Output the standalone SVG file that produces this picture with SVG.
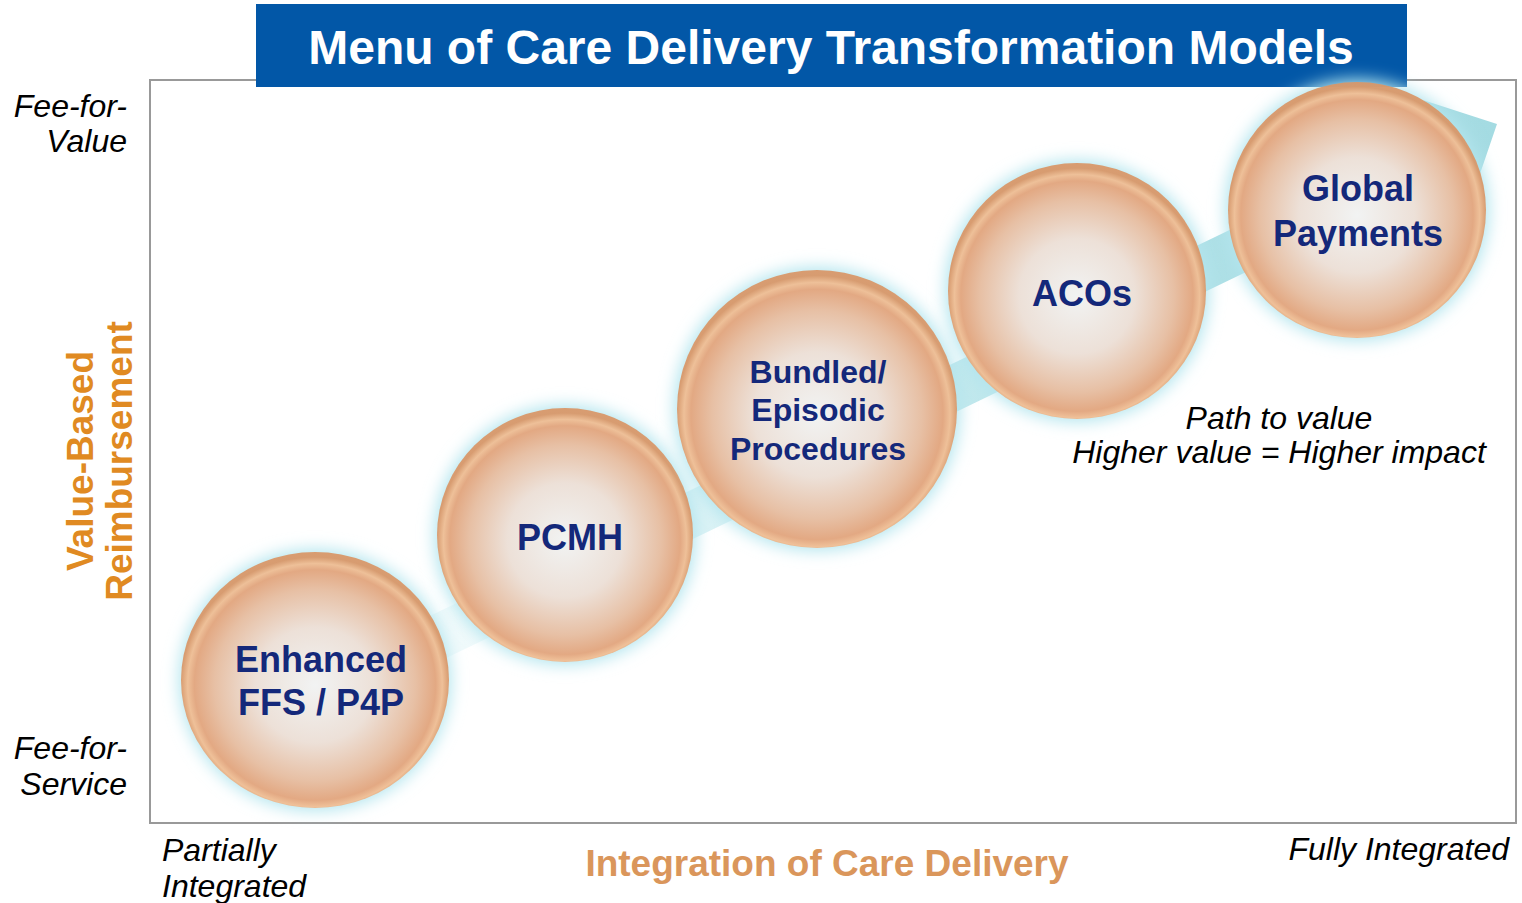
<svg xmlns="http://www.w3.org/2000/svg" width="1522" height="903" viewBox="0 0 1522 903">
<style>
text{font-family:"Liberation Sans",Arial,sans-serif}
.node{font-weight:bold;fill:#14287a;text-anchor:middle}
.ax{font-style:italic;fill:#000;font-size:32px}
.ball{fill:url(#ball);opacity:0.93}
.halo{fill:#b3e5ee;filter:url(#glow)}
</style>
<defs>
<radialGradient id="ball" cx="50%" cy="52%" r="50%">
<stop offset="0" stop-color="#f6f4f3"/>
<stop offset="0.45" stop-color="#f1e0d6"/>
<stop offset="0.75" stop-color="#ebbd9f"/>
<stop offset="0.9" stop-color="#e6a47b"/>
<stop offset="0.95" stop-color="#f2bd92"/>
<stop offset="1" stop-color="#d99667"/>
</radialGradient>
<linearGradient id="band" gradientUnits="userSpaceOnUse" x1="320" y1="694" x2="1497" y2="126">
<stop offset="0" stop-color="#e8f7f9" stop-opacity="0.3"/>
<stop offset="0.4" stop-color="#cfeef2"/>
<stop offset="0.7" stop-color="#b0e1e7"/>
<stop offset="1" stop-color="#a4dbe2"/>
</linearGradient>
<filter id="glow" x="-25%" y="-25%" width="150%" height="150%">
<feGaussianBlur stdDeviation="8"/>
</filter>
</defs>

<rect x="150" y="80" width="1366" height="743" fill="#fff" stroke="#999" stroke-width="2"/>

<g id="connectors">
<polygon points="310.3,673.7 1437.7,129.5 1423.6,100.2 1497,124 1471.2,199.4 1457.1,170.1 329.7,714.3" fill="url(#band)"/>
</g>

<g id="title">
<rect x="256" y="4" width="1151" height="83" fill="#0257a7"/>
<text x="831" y="64" text-anchor="middle" font-size="48" font-weight="bold" fill="#fff">Menu of Care Delivery Transformation Models</text>
</g>

<g id="n1">
<ellipse class="halo" cx="315" cy="680" rx="136" ry="131"/>
<ellipse class="ball" cx="315" cy="680" rx="134" ry="128"/>
<text class="node" x="321" y="672" font-size="36">Enhanced</text>
<text class="node" x="321" y="715" font-size="36">FFS / P4P</text>
</g>
<g id="n2">
<ellipse class="halo" cx="565" cy="535" rx="131" ry="130"/>
<ellipse class="ball" cx="565" cy="535" rx="128" ry="127"/>
<text class="node" x="570" y="550" font-size="36">PCMH</text>
</g>
<g id="n3">
<ellipse class="halo" cx="817" cy="409" rx="143" ry="142"/>
<ellipse class="ball" cx="817" cy="409" rx="140" ry="139"/>
<text class="node" x="818" y="383" font-size="32">Bundled/</text>
<text class="node" x="818" y="421" font-size="32">Episodic</text>
<text class="node" x="818" y="460" font-size="32">Procedures</text>
</g>
<g id="n4">
<ellipse class="halo" cx="1077" cy="291" rx="132" ry="131"/>
<ellipse class="ball" cx="1077" cy="291" rx="129" ry="128"/>
<text class="node" x="1082" y="306" font-size="36">ACOs</text>
</g>
<g id="n5">
<ellipse class="halo" cx="1357" cy="210" rx="132" ry="131"/>
<ellipse class="ball" cx="1357" cy="210" rx="129" ry="128"/>
<text class="node" x="1358" y="201" font-size="36">Global</text>
<text class="node" x="1358" y="246" font-size="36">Payments</text>
</g>

<g id="labels">
<text class="ax" x="127" y="117" text-anchor="end">Fee-for-</text>
<text class="ax" x="127" y="152" text-anchor="end">Value</text>
<text class="ax" x="127" y="759" text-anchor="end">Fee-for-</text>
<text class="ax" x="127" y="795" text-anchor="end">Service</text>
<text class="ax" x="162" y="861">Partially</text>
<text class="ax" x="162" y="897">Integrated</text>
<text class="ax" x="1509" y="860" text-anchor="end">Fully Integrated</text>
<text class="ax" x="1279" y="429" text-anchor="middle">Path to value</text>
<text class="ax" x="1279" y="463" text-anchor="middle">Higher value = Higher impact</text>
<text x="827" y="876" text-anchor="middle" font-size="37" font-weight="bold" fill="#da965b">Integration of Care Delivery</text>
<g transform="translate(93,461) rotate(-90)">
<text x="0" y="0" text-anchor="middle" font-size="37" font-weight="bold" fill="#e08a22">Value-Based</text>
<text x="0" y="39" text-anchor="middle" font-size="37" font-weight="bold" fill="#e08a22">Reimbursement</text>
</g>
</g>
</svg>
